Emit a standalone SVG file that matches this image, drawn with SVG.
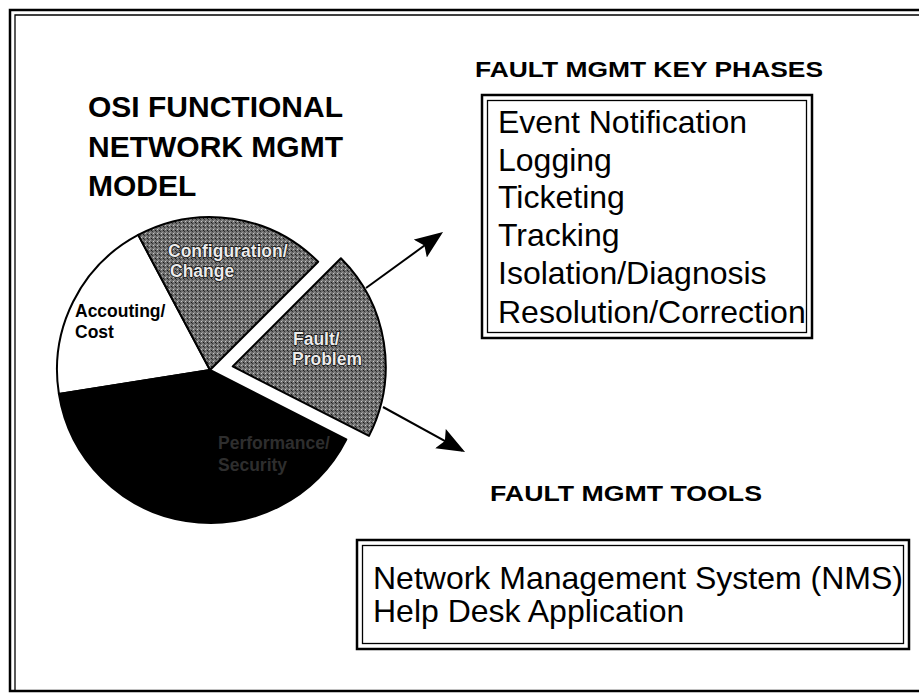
<svg xmlns="http://www.w3.org/2000/svg" width="919" height="694" viewBox="0 0 919 694">
<defs>
<style>
.title{font-family:"Liberation Sans",Arial,sans-serif;font-weight:bold;font-size:30px;fill:#000}
.head{font-family:"Liberation Sans",Arial,sans-serif;font-weight:bold;font-size:22px;fill:#000}
.item{font-family:"Liberation Sans",Arial,sans-serif;font-size:32px;fill:#000}
.slice{stroke:#000;stroke-width:2;stroke-linejoin:round}
.lbl{font-family:"Liberation Sans",Arial,sans-serif;font-weight:bold;font-size:17.5px}
.lblw{fill:#ececec;stroke:#111;stroke-width:1.6;paint-order:stroke}
.outer{fill:none;stroke:#000;stroke-width:2.5}
.inner{fill:none;stroke:#000;stroke-width:1.3}
.conn{stroke:#000;stroke-width:2;fill:none}
</style>
<pattern id="halftone" width="4" height="4" patternUnits="userSpaceOnUse">
<rect width="4" height="4" fill="#6e6e6e"/>
<rect x="1" y="1" width="1" height="1" fill="#c8c8c8"/>
<rect x="3" y="2" width="1" height="1" fill="#1a1a1a"/>
<rect x="0" y="3" width="1" height="1" fill="#333"/>
<rect x="2" y="0" width="1" height="1" fill="#999"/>
</pattern>
<marker id="arrow" markerUnits="userSpaceOnUse" markerWidth="30" markerHeight="24" refX="25" refY="11" orient="auto">
<path d="M0,0 L28,11 L0,22 L5,11 Z" fill="#000"/>
</marker>
</defs>

<rect width="919" height="694" fill="#fff"/>

<g id="frame">
<rect x="10" y="10" width="920" height="681" class="outer"/>
<polyline points="15,690 15,15 919,15" class="inner"/>
</g>

<g id="title">
<text class="title" x="88" y="117">OSI FUNCTIONAL</text>
<text class="title" x="88" y="157">NETWORK MGMT</text>
<text class="title" x="88" y="196">MODEL</text>
</g>

<g id="pie">
<g id="slice-accounting">
<path class="slice" fill="#fff" d="M210,370 L58.9,393.9 A153,153 0 0 1 138.2,234.9 Z"/>
<text class="lbl" fill="#000" x="75" y="317">Accouting/</text>
<text class="lbl" fill="#000" x="75" y="338">Cost</text>
</g>
<g id="slice-configuration">
<path class="slice" fill="url(#halftone)" d="M210,370 L138.2,234.9 A153,153 0 0 1 318.2,261.8 Z"/>
<text class="lbl lblw" x="168" y="257">Configuration/</text>
<text class="lbl lblw" x="170" y="277">Change</text>
</g>
<g id="slice-performance">
<path class="slice" fill="#000" d="M210,370 L346.3,439.5 A153,153 0 0 1 58.9,393.9 Z"/>
<text class="lbl" fill="#2e2e2e" x="218" y="449">Performance/</text>
<text class="lbl" fill="#2e2e2e" x="218" y="471">Security</text>
</g>
<g id="slice-fault">
<path class="slice" fill="url(#halftone)" d="M232.7,366.4 L340.9,258.2 A153,153 0 0 1 369,435.9 Z"/>
<text class="lbl lblw" x="293" y="345">Fault/</text>
<text class="lbl lblw" x="292" y="365">Problem</text>
</g>
</g>

<g id="connectors">
<line class="conn" x1="366" y1="288" x2="440.6" y2="233.8" marker-end="url(#arrow)"/>
<line class="conn" x1="383" y1="407" x2="462.4" y2="450.6" marker-end="url(#arrow)"/>
</g>

<g id="key-phases">
<text class="head" x="475" y="77" textLength="348" lengthAdjust="spacingAndGlyphs">FAULT MGMT KEY PHASES</text>
<rect class="outer" x="482" y="95" width="330" height="243"/>
<rect class="inner" x="487.5" y="100.5" width="319" height="232"/>
<text class="item" x="498" y="133">Event Notification</text>
<text class="item" x="498" y="171">Logging</text>
<text class="item" x="498" y="208">Ticketing</text>
<text class="item" x="498" y="246">Tracking</text>
<text class="item" x="498" y="284">Isolation/Diagnosis</text>
<text class="item" x="498" y="323">Resolution/Correction</text>
</g>

<g id="tools">
<text class="head" x="490" y="501" textLength="272" lengthAdjust="spacingAndGlyphs">FAULT MGMT TOOLS</text>
<rect class="outer" x="357" y="540" width="552" height="109"/>
<rect class="inner" x="362.5" y="545.5" width="541" height="98"/>
<text class="item" x="373" y="589">Network Management System (NMS)</text>
<text class="item" x="373" y="622">Help Desk Application</text>
</g>
</svg>
